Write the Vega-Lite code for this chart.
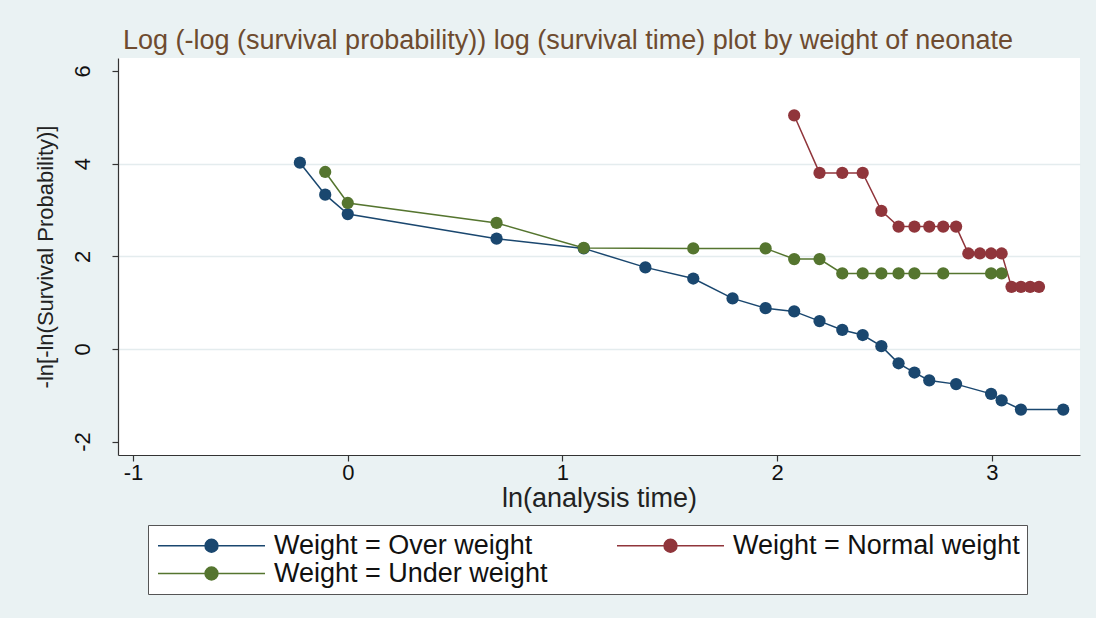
{
  "$schema": "https://vega.github.io/schema/vega-lite/v6.json",
  "autosize": {"type": "none"},
  "width": 962,
  "height": 397,
  "padding": {"left": 118, "top": 58, "right": 16, "bottom": 163},
  "background": "#eaf2f3",
  "title": {
    "text": "Log (-log (survival probability)) log (survival time) plot by weight of neonate",
    "anchor": "middle",
    "dx": -31,
    "offset": 3,
    "font": "Liberation Sans",
    "fontSize": 27,
    "fontWeight": "normal",
    "color": "#6e4b2f"
  },
  "data": {
    "values": [
      {"t": -0.223, "s": 4.02, "g": "Weight = Over weight"},
      {"t": -0.105, "s": 3.33, "g": "Weight = Over weight"},
      {"t": 0.0, "s": 2.91, "g": "Weight = Over weight"},
      {"t": 0.693, "s": 2.38, "g": "Weight = Over weight"},
      {"t": 1.099, "s": 2.17, "g": "Weight = Over weight"},
      {"t": 1.386, "s": 1.76, "g": "Weight = Over weight"},
      {"t": 1.609, "s": 1.52, "g": "Weight = Over weight"},
      {"t": 1.792, "s": 1.09, "g": "Weight = Over weight"},
      {"t": 1.946, "s": 0.88, "g": "Weight = Over weight"},
      {"t": 2.079, "s": 0.81, "g": "Weight = Over weight"},
      {"t": 2.197, "s": 0.60, "g": "Weight = Over weight"},
      {"t": 2.303, "s": 0.41, "g": "Weight = Over weight"},
      {"t": 2.398, "s": 0.30, "g": "Weight = Over weight"},
      {"t": 2.485, "s": 0.06, "g": "Weight = Over weight"},
      {"t": 2.565, "s": -0.31, "g": "Weight = Over weight"},
      {"t": 2.639, "s": -0.51, "g": "Weight = Over weight"},
      {"t": 2.708, "s": -0.68, "g": "Weight = Over weight"},
      {"t": 2.833, "s": -0.76, "g": "Weight = Over weight"},
      {"t": 2.996, "s": -0.97, "g": "Weight = Over weight"},
      {"t": 3.045, "s": -1.11, "g": "Weight = Over weight"},
      {"t": 3.135, "s": -1.31, "g": "Weight = Over weight"},
      {"t": 3.332, "s": -1.31, "g": "Weight = Over weight"},
      {"t": 2.079, "s": 5.04, "g": "Weight = Normal weight"},
      {"t": 2.197, "s": 3.80, "g": "Weight = Normal weight"},
      {"t": 2.303, "s": 3.80, "g": "Weight = Normal weight"},
      {"t": 2.398, "s": 3.80, "g": "Weight = Normal weight"},
      {"t": 2.485, "s": 2.98, "g": "Weight = Normal weight"},
      {"t": 2.565, "s": 2.64, "g": "Weight = Normal weight"},
      {"t": 2.639, "s": 2.64, "g": "Weight = Normal weight"},
      {"t": 2.708, "s": 2.64, "g": "Weight = Normal weight"},
      {"t": 2.773, "s": 2.64, "g": "Weight = Normal weight"},
      {"t": 2.833, "s": 2.64, "g": "Weight = Normal weight"},
      {"t": 2.890, "s": 2.06, "g": "Weight = Normal weight"},
      {"t": 2.944, "s": 2.06, "g": "Weight = Normal weight"},
      {"t": 2.996, "s": 2.06, "g": "Weight = Normal weight"},
      {"t": 3.045, "s": 2.06, "g": "Weight = Normal weight"},
      {"t": 3.091, "s": 1.34, "g": "Weight = Normal weight"},
      {"t": 3.135, "s": 1.34, "g": "Weight = Normal weight"},
      {"t": 3.178, "s": 1.34, "g": "Weight = Normal weight"},
      {"t": 3.219, "s": 1.34, "g": "Weight = Normal weight"},
      {"t": -0.105, "s": 3.82, "g": "Weight = Under weight"},
      {"t": 0.0, "s": 3.15, "g": "Weight = Under weight"},
      {"t": 0.693, "s": 2.72, "g": "Weight = Under weight"},
      {"t": 1.099, "s": 2.18, "g": "Weight = Under weight"},
      {"t": 1.609, "s": 2.17, "g": "Weight = Under weight"},
      {"t": 1.946, "s": 2.17, "g": "Weight = Under weight"},
      {"t": 2.079, "s": 1.94, "g": "Weight = Under weight"},
      {"t": 2.197, "s": 1.94, "g": "Weight = Under weight"},
      {"t": 2.303, "s": 1.63, "g": "Weight = Under weight"},
      {"t": 2.398, "s": 1.63, "g": "Weight = Under weight"},
      {"t": 2.485, "s": 1.63, "g": "Weight = Under weight"},
      {"t": 2.565, "s": 1.63, "g": "Weight = Under weight"},
      {"t": 2.639, "s": 1.63, "g": "Weight = Under weight"},
      {"t": 2.773, "s": 1.63, "g": "Weight = Under weight"},
      {"t": 2.996, "s": 1.63, "g": "Weight = Under weight"},
      {"t": 3.045, "s": 1.63, "g": "Weight = Under weight"}
    ]
  },
  "encoding": {
    "x": {
      "field": "t",
      "type": "quantitative",
      "scale": {"domain": [-1.07, 3.41], "nice": false, "zero": false},
      "axis": {
        "title": "ln(analysis time)",
        "values": [-1, 0, 1, 2, 3],
        "labelExpr": "'' + datum.value",
        "grid": false,
        "labelPadding": 1,
        "titlePadding": 2,
        "labelFontSize": 22,
        "titleFontSize": 27
      }
    },
    "y": {
      "field": "s",
      "type": "quantitative",
      "scale": {"domain": [-2.29, 6.28], "nice": false, "zero": false},
      "axis": {
        "title": "-ln[-ln(Survival Probability)]",
        "values": [-2, 0, 2, 4, 6],
        "labelExpr": "'' + datum.value",
        "labelAngle": 270,
        "labelAlign": "center",
        "labelBaseline": "bottom",
        "labelPadding": 18,
        "labelFontSize": 22,
        "titleFontSize": 22,
        "titlePadding": 14,
        "grid": true,
        "gridColor": {
          "condition": {"test": "datum.value == 6 || datum.value == -2", "value": "transparent"},
          "value": "#e4ecee"
        },
        "gridWidth": 1.5
      }
    },
    "color": {
      "field": "g",
      "type": "nominal",
      "scale": {
        "domain": ["Weight = Over weight", "Weight = Normal weight", "Weight = Under weight"],
        "range": ["#1a476f", "#90353b", "#55752f"]
      },
      "legend": {
        "title": null,
        "orient": "none",
        "legendX": 30,
        "legendY": 467,
        "columns": 2,
        "direction": "horizontal",
        "symbolType": "M-5.35,0H5.35M-0.65,0A0.65,0.65 0 1 0 0.65,0A0.65,0.65 0 1 0 -0.65,0Z",
        "symbolSize": 400,
        "symbolOffset": 43,
        "symbolStrokeWidth": 1.4,
        "labelFont": "Liberation Sans",
        "labelFontSize": 27,
        "labelColor": "#111111",
        "labelOffset": 49,
        "columnPadding": 66,
        "rowPadding": 0,
        "padding": 7,
        "fillColor": "#ffffff",
        "strokeColor": "#555555",
        "labelLimit": 400,
        "encode": {
          "symbols": {
            "update": {
              "stroke": {"scale": "color", "field": "value"},
              "fill": {"scale": "color", "field": "value"},
              "fillOpacity": {"value": 1},
              "strokeOpacity": {"value": 1}
            }
          }
        }
      }
    }
  },
  "layer": [
    {"mark": {"type": "line", "strokeWidth": 1.5}},
    {"mark": {"type": "point", "filled": true, "size": 150, "opacity": 1}}
  ],
  "config": {
    "view": {"fill": "#ffffff", "stroke": null},
    "font": "Liberation Sans",
    "axis": {
      "domainColor": "#333333",
      "domainWidth": 1.2,
      "tickColor": "#333333",
      "tickSize": 6,
      "tickWidth": 1.2,
      "labelFont": "Liberation Sans",
      "labelColor": "#111111",
      "titleFont": "Liberation Sans",
      "titleFontWeight": "normal",
      "titleColor": "#222222"
    }
  }
}
